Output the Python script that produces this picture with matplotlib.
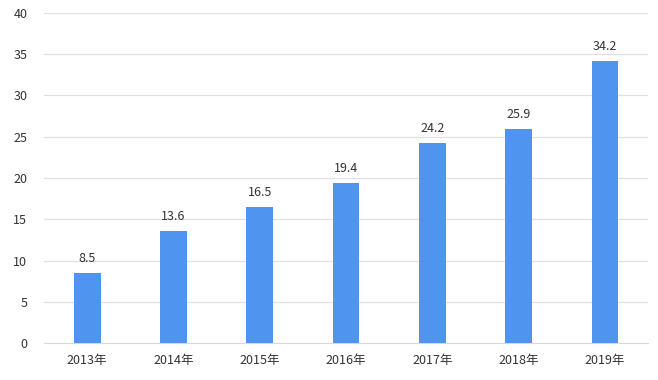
import matplotlib
matplotlib.use("Agg")
import matplotlib.pyplot as plt

plt.rcParams['font.family'] = ['Noto Sans CJK SC', 'DejaVu Sans']

years = ["2013年", "2014年", "2015年", "2016年", "2017年", "2018年", "2019年"]
values = [8.5, 13.6, 16.5, 19.4, 24.2, 25.9, 34.2]
yticks = [0, 5, 10, 15, 20, 25, 30, 35, 40]

fig = plt.figure(figsize=(6.58, 3.8), dpi=100)
ax = fig.add_axes([0.067, 0.097, 0.918, 0.869])

x = range(len(years))
bars = ax.bar(x, values, width=0.31, color="#4F94EF", zorder=3)
for xi, v in zip(x, values):
    ax.text(xi, v + 1.0, f"{v}", ha="center", va="bottom", fontsize=9, color="#333333")

ax.set_xlim(-0.5, len(years) - 0.5)
ax.set_ylim(0, 40)
ax.set_yticks(yticks)
ax.set_xticks(list(x))
ax.set_xticklabels(years)
ax.yaxis.grid(True, color="#E0E0E0", linewidth=0.9, zorder=0)
for s in ["top", "right", "left"]:
    ax.spines[s].set_visible(False)
ax.spines["bottom"].set_color("#D9D9D9")
ax.tick_params(axis="both", length=0, labelsize=9, colors="#333333")
ax.tick_params(axis="x", pad=8)
ax.tick_params(axis="y", pad=12)

fig.savefig("out.png", dpi=100)
